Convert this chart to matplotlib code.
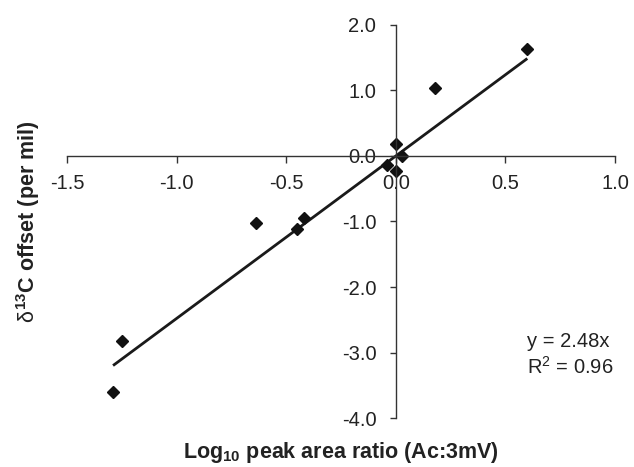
import matplotlib

matplotlib.use("Agg")
import matplotlib.pyplot as plt
import numpy as np

plt.rcParams["font.family"] = ["Liberation Sans", "DejaVu Sans"]
plt.rcParams["mathtext.fontset"] = "custom"
plt.rcParams["mathtext.rm"] = "Liberation Sans"
plt.rcParams["mathtext.it"] = "Liberation Sans"
plt.rcParams["mathtext.bf"] = "Liberation Sans:bold"

# log10 peak area ratio (Ac:3mV) vs d13C offset (per mil)
log_ratio = [0.60, 0.18, 0.00, 0.03, -0.04, 0.00, -0.42, -0.45, -0.64, -1.25, -1.29]
d13c_offset = [1.63, 1.04, 0.18, 0.00, -0.14, -0.23, -0.95, -1.12, -1.02, -2.82, -3.60]
slope = 2.48
r_squared = 0.96

x_ticks = [-1.5, -1.0, -0.5, 0.0, 0.5, 1.0]
y_ticks = [2.0, 1.0, 0.0, -1.0, -2.0, -3.0, -4.0]

fig = plt.figure(figsize=(6.34, 4.67), dpi=100)
ax = fig.add_axes([0.1057, 0.1049, 0.8643, 0.8416])

x = np.array(log_ratio)
fit_x = np.array([x.min(), x.max()])
ax.plot(fit_x, slope * fit_x, color="#1a1a1a", lw=2.0, solid_capstyle="butt")
ax.plot(x, d13c_offset, linestyle="none", marker="D", markersize=6.5,
        color="#111111")

ax.set_xlim(-1.5, 1.0)
ax.set_ylim(-4.0, 2.0)

ax.spines["left"].set_position(("data", 0))
ax.spines["bottom"].set_position(("data", 0))
ax.spines["top"].set_visible(False)
ax.spines["right"].set_visible(False)
for side in ("left", "bottom"):
    ax.spines[side].set_color("#333333")
    ax.spines[side].set_linewidth(1.0)

ax.set_xticks(x_ticks)
ax.set_yticks(y_ticks)
ax.set_xticklabels([f"{v:.1f}" for v in x_ticks])
ax.set_yticklabels([f"{v:.1f}" for v in y_ticks])
ax.tick_params(axis="x", direction="out", length=5, width=1.0, color="#333333",
               labelsize=14.5, pad=8, labelcolor="#222222")
ax.tick_params(axis="y", direction="out", length=4, width=1.0, color="#333333",
               labelsize=14.5, pad=10, labelcolor="#222222")

fig.text(0.5379, 0.03, r"Log$_{\mathbf{10}}$ peak area ratio (Ac:3mV)",
         ha="center", va="center", fontsize=15.5, fontweight="bold", color="#222222")
fig.text(0.045, 0.525, r"$\delta^{\mathbf{13}}$C offset (per mil)",
         ha="center", va="center", rotation=90, fontsize=15.5, fontweight="bold",
         color="#222222")

ax.text(0.839, 0.16, f"y = {slope:.2f}x\nR$^2$ = {r_squared:.2f}",
        transform=ax.transAxes, ha="left", va="center", fontsize=14.5,
        color="#222222", linespacing=1.3)

fig.savefig("out.png", dpi=100)
